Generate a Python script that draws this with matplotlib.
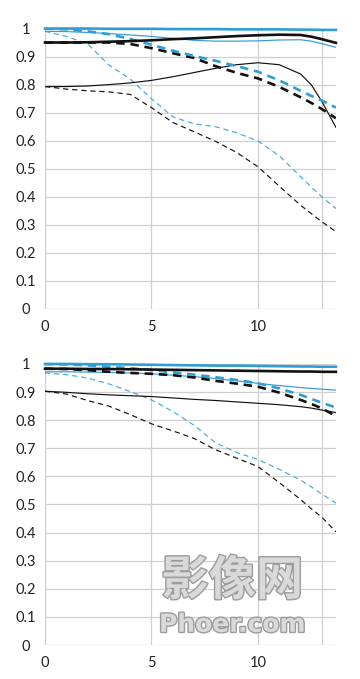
import matplotlib
matplotlib.use("Agg")
import matplotlib.pyplot as plt
import matplotlib.patheffects as pe

plt.rcParams["font.family"] = ["Lato", "DejaVu Sans"]

BLUE = "#2f9dd6"
BLUE_LT = "#45a9d8"
BLACK = "#111111"
GRID = "#cfcfcf"

# field position (mm) where every curve was read
X = [0, 1, 2, 3, 4, 5, 6, 7, 8, 9, 10, 11, 12, 12.5, 13, 13.66]

# ---- upper chart ----
top_blue_thick = [1.0, 1.0, 1.0, 0.999, 0.999, 0.999, 0.998, 0.998, 0.998, 0.997, 0.997, 0.997, 0.996, 0.996, 0.995, 0.995]
top_blue_thin = [0.99, 0.989, 0.986, 0.982, 0.977, 0.972, 0.965, 0.958, 0.955, 0.955, 0.956, 0.959, 0.96, 0.955, 0.946, 0.933]
top_black_thick = [0.95, 0.95, 0.951, 0.953, 0.955, 0.958, 0.962, 0.965, 0.969, 0.973, 0.976, 0.978, 0.977, 0.971, 0.962, 0.949]
top_black_thin = [0.793, 0.793, 0.795, 0.80, 0.806, 0.815, 0.828, 0.843, 0.858, 0.871, 0.878, 0.871, 0.838, 0.800, 0.740, 0.648]
top_blue_thick_d = [1.0, 0.997, 0.99, 0.98, 0.963, 0.942, 0.921, 0.902, 0.885, 0.866, 0.846, 0.815, 0.778, 0.76, 0.743, 0.718]
top_black_thick_d = [0.95, 0.95, 0.95, 0.95, 0.945, 0.93, 0.912, 0.895, 0.866, 0.842, 0.822, 0.792, 0.755, 0.735, 0.713, 0.68]
top_blue_thin_d = [0.99, 0.972, 0.945, 0.87, 0.82, 0.75, 0.685, 0.66, 0.65, 0.628, 0.599, 0.546, 0.472, 0.435, 0.40, 0.358]
top_black_thin_d = [0.793, 0.784, 0.778, 0.774, 0.765, 0.718, 0.665, 0.632, 0.598, 0.558, 0.507, 0.438, 0.37, 0.34, 0.311, 0.276]

# ---- lower chart ----
bot_blue_thick = [1.0, 1.0, 0.999, 0.999, 0.998, 0.997, 0.996, 0.995, 0.994, 0.994, 0.993, 0.992, 0.991, 0.991, 0.99, 0.99]
bot_black_thick = [0.983, 0.983, 0.982, 0.982, 0.981, 0.98, 0.979, 0.978, 0.977, 0.976, 0.975, 0.974, 0.973, 0.973, 0.972, 0.972]
bot_blue_thin = [0.972, 0.972, 0.971, 0.97, 0.968, 0.965, 0.96, 0.955, 0.948, 0.94, 0.931, 0.923, 0.916, 0.913, 0.91, 0.907]
bot_black_thin = [0.903, 0.899, 0.894, 0.89, 0.887, 0.884, 0.879, 0.874, 0.87, 0.865, 0.86, 0.855, 0.848, 0.843, 0.836, 0.827]
bot_blue_thick_d = [1.0, 0.998, 0.995, 0.99, 0.985, 0.978, 0.97, 0.962, 0.953, 0.943, 0.931, 0.913, 0.89, 0.876, 0.862, 0.845]
bot_black_thick_d = [0.983, 0.982, 0.978, 0.972, 0.968, 0.965, 0.96, 0.952, 0.94, 0.93, 0.919, 0.898, 0.872, 0.858, 0.842, 0.815]
bot_blue_thin_d = [0.968, 0.962, 0.95, 0.929, 0.902, 0.872, 0.831, 0.782, 0.72, 0.685, 0.66, 0.625, 0.587, 0.563, 0.537, 0.505]
bot_black_thin_d = [0.903, 0.893, 0.87, 0.85, 0.82, 0.787, 0.762, 0.735, 0.695, 0.665, 0.635, 0.578, 0.518, 0.485, 0.455, 0.403]

Y_TICKS = [0, 0.1, 0.2, 0.3, 0.4, 0.5, 0.6, 0.7, 0.8, 0.9, 1]
Y_LABELS = ["0", "0.1", "0.2", "0.3", "0.4", "0.5", "0.6", "0.7", "0.8", "0.9", "1"]
X_TICKS = [0, 5, 10]
X_GRID = [0, 5, 10, 13]

THICK = 1.9
THIN = 0.85
DASH_THICK = (0, (3.2, 2.2))
DASH_THIN = (0, (4.5, 3.2))


def style(ax):
    ax.set_xlim(0, 13.66)
    ax.set_ylim(0, 1.0)
    for sp in ax.spines.values():
        sp.set_visible(False)
    for v in X_GRID:
        ax.axvline(v, color=GRID, lw=0.9, zorder=0)
    for v in Y_TICKS:
        ax.axhline(v, color=GRID, lw=0.9, zorder=0)
    ax.set_yticks(Y_TICKS)
    ax.set_yticklabels(Y_LABELS)
    ax.set_xticks(X_TICKS)
    ax.set_xticklabels([str(t) for t in X_TICKS])
    ax.tick_params(length=0, labelsize=10.5, colors="#222222")
    ax.tick_params(axis="y", pad=14)
    ax.tick_params(axis="x", pad=8)
    for lab in ax.get_yticklabels():
        lab.set_horizontalalignment("center")


def draw(ax, thin_d, thick_d, thin, thick):
    # thin dashed first, thick solids on top
    ax.plot(X, thin_d[1], color=BLACK, lw=THIN, ls=DASH_THIN, zorder=3)
    ax.plot(X, thin_d[0], color=BLUE_LT, lw=THIN, ls=DASH_THIN, zorder=3)
    ax.plot(X, thin[1], color=BLACK, lw=THIN, zorder=4)
    ax.plot(X, thin[0], color=BLUE, lw=THIN, zorder=4)
    ax.plot(X, thick_d[1], color=BLACK, lw=THICK, ls=DASH_THICK, zorder=5)
    ax.plot(X, thick_d[0], color=BLUE, lw=THICK, ls=DASH_THICK, zorder=5)
    ax.plot(X, thick[1], color=BLACK, lw=THICK, zorder=6, clip_on=False)
    ax.plot(X, thick[0], color=BLUE, lw=THICK, zorder=6, clip_on=False)


fig = plt.figure(figsize=(3.6, 6.79), dpi=100, facecolor="white")
ax1 = fig.add_axes([0.125, 0.545, 0.808, 0.413])
ax2 = fig.add_axes([0.125, 0.050, 0.808, 0.414])
style(ax1)
style(ax2)

draw(ax1, (top_blue_thin_d, top_black_thin_d), (top_blue_thick_d, top_black_thick_d),
     (top_blue_thin, top_black_thin), (top_blue_thick, top_black_thick))
draw(ax2, (bot_blue_thin_d, bot_black_thin_d), (bot_blue_thick_d, bot_black_thick_d),
     (bot_blue_thin, bot_black_thin), (bot_blue_thick, bot_black_thick))

# watermark
wm = [pe.withStroke(linewidth=2.0, foreground="#9c9c9c")]
ax2.text(8.8, 0.228, "影像网", ha="center", va="center", fontsize=34,
         fontweight="bold", color="#d9d9d9", family=["Noto Sans CJK SC", "DejaVu Sans"],
         path_effects=wm, zorder=2)
ax2.text(8.8, 0.072, "Phoer.com", ha="center", va="center", fontsize=18,
         fontweight="bold", color="#d9d9d9", family=["DejaVu Sans"],
         path_effects=wm, zorder=2)

fig.savefig("out.png", dpi=100, facecolor="white")
